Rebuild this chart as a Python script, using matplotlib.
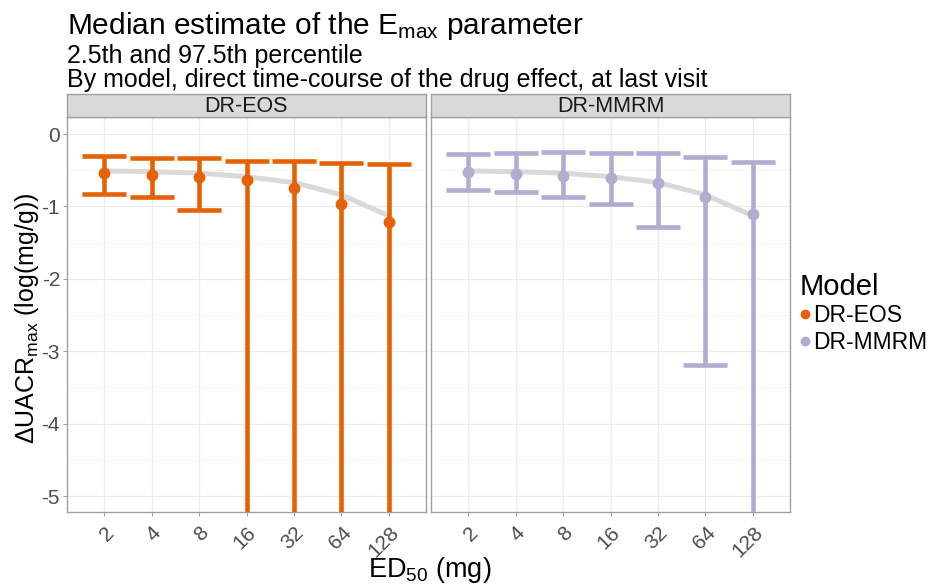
import matplotlib
matplotlib.use("Agg")
import matplotlib.pyplot as plt
from matplotlib.lines import Line2D
from matplotlib.ticker import MultipleLocator
import numpy as np

plt.rcParams['font.family'] = ['Liberation Sans', 'DejaVu Sans']
plt.rcParams['mathtext.fontset'] = 'custom'
plt.rcParams['mathtext.rm'] = 'Liberation Sans'
plt.rcParams['mathtext.it'] = 'Liberation Sans:italic'

doses = ['2', '4', '8', '16', '32', '64', '128']
models = ['DR-EOS', 'DR-MMRM']
colors = {'DR-EOS': '#E66101', 'DR-MMRM': '#B2ABD2'}

# median estimates
median_eos = [-0.54, -0.57, -0.60, -0.64, -0.74, -0.96, -1.22]
median_mmrm = [-0.53, -0.55, -0.58, -0.61, -0.68, -0.87, -1.11]
# 97.5th percentile (upper)
upper_eos = [-0.31, -0.33, -0.33, -0.37, -0.37, -0.40, -0.42]
upper_mmrm = [-0.28, -0.26, -0.25, -0.26, -0.26, -0.32, -0.38]
# 2.5th percentile (lower); values below -5.2 are cut off by the axis
lower_eos = [-0.83, -0.87, -1.05, -6.0, -6.0, -6.0, -6.0]
lower_mmrm = [-0.77, -0.80, -0.87, -0.96, -1.29, -3.19, -6.0]
# reference (true) curve
true_curve = [-0.51, -0.52, -0.54, -0.59, -0.67, -0.84, -1.13]

data = {
    'DR-EOS': (median_eos, lower_eos, upper_eos),
    'DR-MMRM': (median_mmrm, lower_mmrm, upper_mmrm),
}

W, H = 934, 584
fig = plt.figure(figsize=(W / 100, H / 100), dpi=100)

def fx(px):
    return px / W

def fy(py):
    return 1 - py / H

panels = [(67, 426), (431, 790)]
ptop, pbot = 117, 512
stop = 94

x = np.arange(1, len(doses) + 1)
axes = []
for i, (m, (l, r)) in enumerate(zip(models, panels)):
    ax = fig.add_axes([fx(l), fy(pbot), fx(r - l), fy(ptop) - fy(pbot)])
    axes.append(ax)
    med, lo, up = data[m]
    med = np.array(med); lo = np.array(lo); up = np.array(up)
    ax.plot(x, true_curve, color='#d9d9d9', lw=3.6, zorder=2, solid_capstyle='round')
    ax.errorbar(x, med, yerr=[med - lo, up - med], fmt='none', ecolor=colors[m],
                elinewidth=3.3, capsize=15.5, capthick=3.3, zorder=3)
    ax.plot(x, med, 'o', color=colors[m], ms=7.5, zorder=4)
    ax.set_xlim(0.22, 7.78)
    ax.set_ylim(-5.22, 0.235)
    ax.set_xticks(x)
    ax.set_xticklabels(doses, rotation=45, ha='right', va='top', rotation_mode='anchor')
    ax.yaxis.set_major_locator(MultipleLocator(1))
    ax.yaxis.set_minor_locator(MultipleLocator(0.5))
    ax.set_yticks([0, -1, -2, -3, -4, -5])
    ax.set_yticklabels(['0', '-1', '-2', '-3', '-4', '-5'])
    ax.grid(which='major', color='#ebebeb', lw=0.9, zorder=0)
    ax.grid(which='minor', axis='y', color='#f2f2f2', lw=0.6, zorder=0)
    ax.set_axisbelow(True)
    for s in ax.spines.values():
        s.set_color('#a0a0a0')
        s.set_linewidth(1.0)
    ax.tick_params(axis='both', which='major', colors='#a0a0a0', labelcolor='#4d4d4d',
                   labelsize=15, length=3, width=0.8, pad=2)
    ax.tick_params(axis='x', pad=5)
    ax.tick_params(which='minor', length=0)
    if i == 1:
        ax.tick_params(axis='y', left=False, labelleft=False)
    # strip
    sax = fig.add_axes([fx(l), fy(ptop), fx(r - l), fy(stop) - fy(ptop)])
    sax.set_facecolor('#d9d9d9')
    sax.set_xticks([]); sax.set_yticks([])
    for s in sax.spines.values():
        s.set_color('#a0a0a0')
        s.set_linewidth(1.0)
    sax.text(0.5, 0.47, m, ha='center', va='center', fontsize=15.5, color='#1a1a1a',
             transform=sax.transAxes)

# titles
fig.text(fx(67), fy(34), r'Median estimate of the E$_{\mathrm{max}}$ parameter',
         fontsize=21.5, ha='left', va='baseline')
fig.text(fx(67), fy(63), '2.5th and 97.5th percentile', fontsize=18,
         ha='left', va='baseline')
fig.text(fx(67), fy(87), 'By model, direct time-course of the drug effect, at last visit',
         fontsize=18, ha='left', va='baseline')

# axis labels
fig.text(fx(430), fy(577), r'ED$_{\mathrm{50}}$ (mg)', fontsize=19.5, ha='center',
         va='baseline')
fig.text(fx(27), fy(318), r'ΔUACR$_{\mathrm{max}}$ (log(mg/g))', fontsize=18,
         ha='center', va='center', rotation=90)

# legend
handles = [Line2D([], [], marker='o', ls='none', color=colors[m], ms=6) for m in models]
leg = fig.legend(handles, models, title='Model', loc='upper left',
                 bbox_to_anchor=(fx(800), fy(273)), frameon=False, fontsize=16.5,
                 title_fontsize=21, handlelength=0.45, handletextpad=0.12,
                 labelspacing=0.15, borderaxespad=0, borderpad=0)
leg._legend_box.align = 'left'

fig.savefig('out.png', dpi=100, facecolor='white')
